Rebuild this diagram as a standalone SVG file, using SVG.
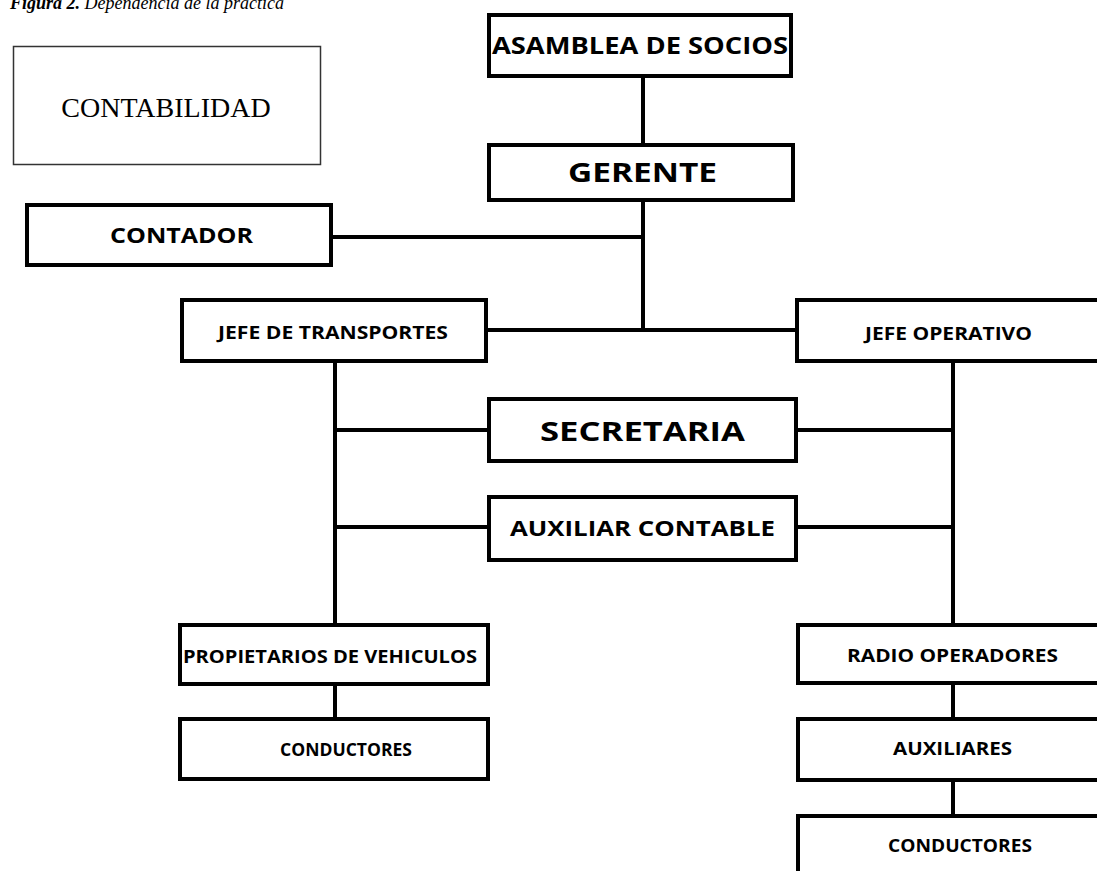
<svg xmlns="http://www.w3.org/2000/svg" width="1097" height="871" viewBox="0 0 1097 871">
<style>
.b{fill:#fff;stroke:#000;stroke-width:4}
.t{font-family:"Open Sans","Liberation Sans",sans-serif;font-weight:bold;fill:#000;text-anchor:middle}
.c{stroke:#000;stroke-width:4;fill:none}
</style>
<rect width="1097" height="871" fill="#fff"/>
<text x="10" y="9" font-family="Liberation Serif,serif" font-size="18" font-style="italic"><tspan font-weight="bold">Figura 2.</tspan> Dependencia de la práctica</text>
<g id="connectors">
<path class="c" d="M643,78V143 M643,202V330 M333,237H643 M488,330H796 M335,363V623 M335,430H488 M335,527H488 M953,363V623 M798,430H953 M798,527H953 M335,686V717 M953,685V717 M953,782V814"/>
</g>
<g id="contabilidad"><rect x="13.5" y="46.5" width="307" height="118" fill="#fff" stroke="#333" stroke-width="1.5"/><text x="166" y="117" font-family="Liberation Serif,serif" font-size="28" text-anchor="middle">CONTABILIDAD</text></g>
<g id="asamblea"><rect class="b" x="489" y="15" width="302" height="61"/><text class="t" x="640" y="54" font-size="23" textLength="296" lengthAdjust="spacingAndGlyphs">ASAMBLEA DE SOCIOS</text></g>
<g id="gerente"><rect class="b" x="489" y="145" width="304" height="55"/><text class="t" x="642.5" y="182" font-size="27" textLength="149" lengthAdjust="spacingAndGlyphs">GERENTE</text></g>
<g id="contador"><rect class="b" x="27" y="205" width="304" height="60"/><text class="t" x="181.5" y="243" font-size="21" textLength="143" lengthAdjust="spacingAndGlyphs">CONTADOR</text></g>
<g id="jefe-transportes"><rect class="b" x="182" y="300" width="304" height="61"/><text class="t" x="333" y="339" font-size="18" textLength="230" lengthAdjust="spacingAndGlyphs">JEFE DE TRANSPORTES</text></g>
<g id="jefe-operativo"><rect class="b" x="797" y="300" width="310" height="61"/><text class="t" x="948.5" y="340" font-size="18" textLength="167" lengthAdjust="spacingAndGlyphs">JEFE OPERATIVO</text></g>
<g id="secretaria"><rect class="b" x="489" y="399" width="307" height="62"/><text class="t" x="642.5" y="441" font-size="27" textLength="205" lengthAdjust="spacingAndGlyphs">SECRETARIA</text></g>
<g id="auxiliar-contable"><rect class="b" x="489" y="497" width="307" height="63"/><text class="t" x="642.5" y="536" font-size="21" textLength="265" lengthAdjust="spacingAndGlyphs">AUXILIAR CONTABLE</text></g>
<g id="propietarios"><rect class="b" x="180" y="625" width="308" height="59"/><text class="t" x="330" y="663" font-size="17.5" textLength="294" lengthAdjust="spacingAndGlyphs">PROPIETARIOS DE VEHICULOS</text></g>
<g id="conductores-1"><rect class="b" x="180" y="719" width="308" height="60"/><text class="t" x="346" y="756" font-size="17.5" textLength="132" lengthAdjust="spacingAndGlyphs">CONDUCTORES</text></g>
<g id="radio-operadores"><rect class="b" x="798" y="625" width="310" height="58"/><text class="t" x="952.5" y="662" font-size="18" textLength="211" lengthAdjust="spacingAndGlyphs">RADIO OPERADORES</text></g>
<g id="auxiliares"><rect class="b" x="798" y="719" width="310" height="61"/><text class="t" x="952.5" y="755" font-size="18" textLength="119" lengthAdjust="spacingAndGlyphs">AUXILIARES</text></g>
<g id="conductores-2"><rect class="b" x="798" y="816" width="310" height="70"/><text class="t" x="960" y="852" font-size="18" textLength="144" lengthAdjust="spacingAndGlyphs">CONDUCTORES</text></g>
</svg>
